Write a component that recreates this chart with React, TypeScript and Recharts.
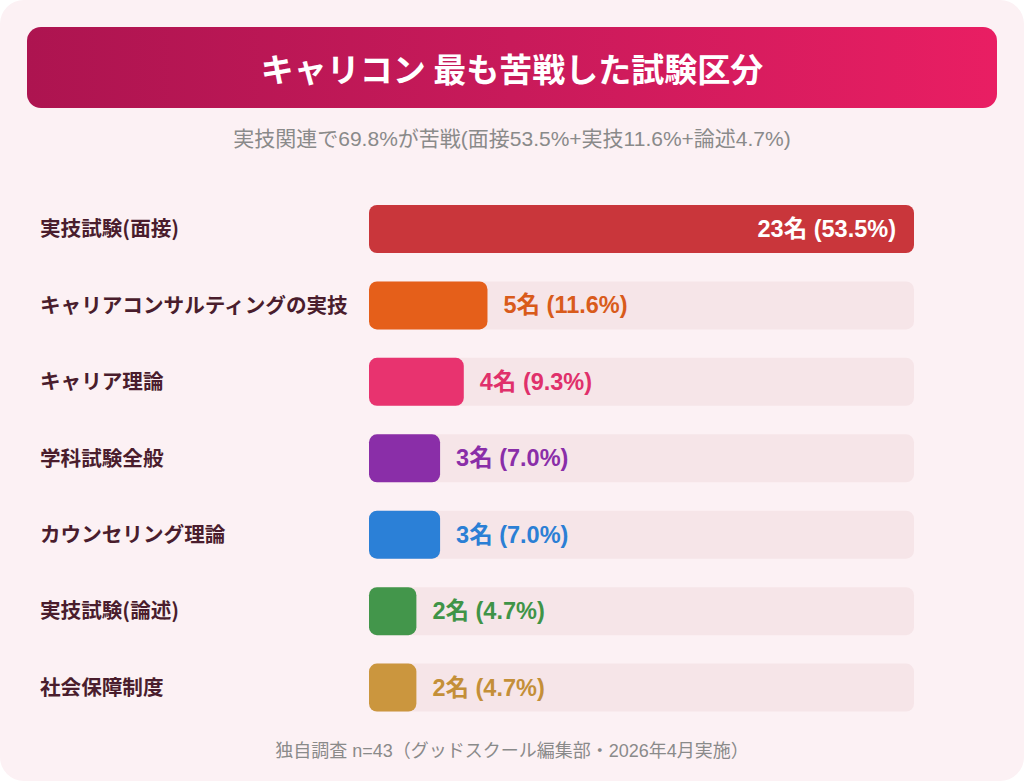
import { BarChart, Bar, XAxis, YAxis, Cell, LabelList } from "recharts"

const categories = [
  "実技試験(面接)",
  "キャリアコンサルティングの実技",
  "キャリア理論",
  "学科試験全般",
  "カウンセリング理論",
  "実技試験(論述)",
  "社会保障制度",
]
const counts = [23, 5, 4, 3, 3, 2, 2]
const shares = [53.5, 11.6, 9.3, 7.0, 7.0, 4.7, 4.7]

const barColors = ["#c9363b", "#e55f1a", "#e8336f", "#8a2ea8", "#2b80d7", "#43964b", "#cb963e"]
const labelColors = ["#ffffff", "#d95b1b", "#e0306b", "#8a2ea8", "#2b7fd5", "#3f9447", "#c48f38"]

const TITLE = "キャリコン 最も苦戦した試験区分"
const SUBTITLE = "実技関連で69.8%が苦戦(面接53.5%+実技11.6%+論述4.7%)"
const FOOTER = "独自調査 n=43（グッドスクール編集部・2026年4月実施）"

const FONT = "'Noto Sans CJK JP', 'Noto Sans', sans-serif"
// latin glyphs in the reference are wider, helvetica-ish
const MIXED = "'Liberation Sans', 'Noto Sans CJK JP', sans-serif"

const data = categories.map((name, i) => ({
  name,
  count: counts[i],
  label: `${counts[i]}名 (${shares[i].toFixed(1)}%)`,
}))

const maxCount = Math.max(...counts)

function CategoryTick(props: any) {
  const { y, payload } = props
  return (
    <text x={40} y={y} dy={7} textAnchor="start" fontSize={20.6} fontWeight={700} fill="#4a1d2d" fontFamily={FONT}>
      {payload.value}
    </text>
  )
}

function ValueLabel(props: any) {
  const { x, y, width, height, value, index } = props
  const i = typeof index === "number" ? index : data.findIndex((d) => d.label === value)
  const inside = counts[i] === maxCount
  const cy = Number(y) + Number(height) / 2
  if (inside) {
    return (
      <text x={Number(x) + Number(width) - 18} y={cy} dy={8} textAnchor="end" fontSize={23.5} fontWeight={700} fill="#ffffff" fontFamily={MIXED}>
        {value}
      </text>
    )
  }
  return (
    <text x={Number(x) + Number(width) + 16} y={cy} dy={8} textAnchor="start" fontSize={23.5} fontWeight={700} fill={labelColors[i]} fontFamily={MIXED}>
      {value}
    </text>
  )
}

export default function App() {
  return (
    <div style={{ position: "absolute", left: 0, top: 0, width: 1024, height: 781, background: "#ffffff", fontFamily: FONT }}>
      <div style={{ position: "absolute", inset: 0, background: "#fcf1f4", borderRadius: 24 }} />
      <div
        style={{
          position: "absolute",
          left: 27,
          top: 27,
          width: 970,
          height: 81,
          borderRadius: 14,
          background: "linear-gradient(90deg, #ad1450 0%, #c81a5a 50%, #e91e63 100%)",
          display: "flex",
          alignItems: "center",
          justifyContent: "center",
          color: "#ffffff",
          fontSize: 33,
          fontWeight: 700,
        }}
      >
        {TITLE}
      </div>
      <div style={{ position: "absolute", left: 0, top: 122, width: 1024, textAlign: "center", color: "#8a8a8a", fontSize: 21, fontFamily: MIXED }}>
        {SUBTITLE}
      </div>
      <div style={{ position: "absolute", left: 0, top: 0 }}>
        <BarChart width={1024} height={781} data={data} layout="vertical" margin={{ top: 191, right: 110, bottom: 55, left: 0 }}>
          <XAxis type="number" domain={[0, maxCount]} hide />
          <YAxis type="category" dataKey="name" width={369} axisLine={false} tickLine={false} tick={<CategoryTick />} />
          <Bar dataKey="count" barSize={48} radius={8} background={{ fill: "#f6e5e8", radius: 8 }} isAnimationActive={false}>
            {data.map((_, i) => (
              <Cell key={`c-${i}`} fill={barColors[i]} />
            ))}
            <LabelList dataKey="label" content={<ValueLabel />} />
          </Bar>
        </BarChart>
      </div>
      <div style={{ position: "absolute", left: 0, top: 736, width: 1024, textAlign: "center", color: "#8a8a8a", fontSize: 18, fontFamily: MIXED }}>
        {FOOTER}
      </div>
    </div>
  )
}
